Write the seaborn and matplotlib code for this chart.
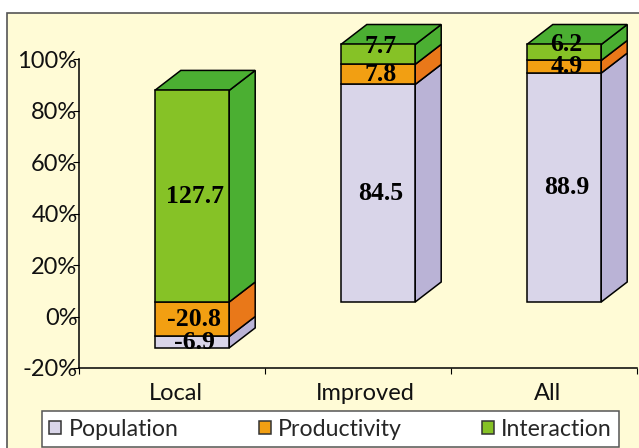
import numpy as np
import pandas as pd
import matplotlib
matplotlib.use("Agg")
import matplotlib.pyplot as plt
from matplotlib.patches import Polygon, Rectangle, Patch
from matplotlib.transforms import ScaledTranslation
import seaborn as sns

groups = ["Local", "Improved", "All"]
series_names = ["Population", "Productivity", "Interaction"]
population = [-6.9, 84.5, 88.9]
productivity = [-20.8, 7.8, 4.9]
interaction = [127.7, 7.7, 6.2]
front_colors = ["#D9D5E9", "#F29F12", "#86C226"]
side_colors = ["#BAB3D6", "#E97819", "#4BAF32"]
y_ticks = [-20, 0, 20, 40, 60, 80, 100]

W, H, DPI = 639, 448, 100
sns.set_style("white")
plt.rcParams["font.family"] = ["Lato", "DejaVu Sans"]

fig = plt.figure(figsize=(W / DPI, H / DPI), dpi=DPI, facecolor="white")
fig.add_artist(Rectangle((7 / W, 1 - 13 / H), 1.0, -1.0, transform=fig.transFigure,
                         facecolor="#FFFBD6", edgecolor="#555555", linewidth=1.2, zorder=-1))

ax = fig.add_axes([79 / W, 1 - 368 / H, (637 - 79) / W, (368 - 59) / H])
ax.patch.set_alpha(0)

# Each column is a 100% stack: shares of the absolute total.
matrix = np.array([population, productivity, interaction], dtype=float)
shares = matrix / np.abs(matrix).sum(axis=0) * 100

# Positives build upward in series order; negatives hang below zero, last series nearest the axis.
positive = np.clip(shares, 0, None)
negative = np.clip(shares, None, 0)
pos_lower = np.vstack([np.zeros(3), np.cumsum(positive, axis=0)[:-1]])
neg_upper = np.vstack([np.cumsum(negative[::-1], axis=0)[::-1][1:], np.zeros(3)])
lowers = np.where(shares >= 0, pos_lower, neg_upper + shares)
sizes = np.abs(shares)
tops = positive.sum(axis=0)

BAR_W = 0.4
PER_X = 186.0       # pixels per category
PER_Y = 2.575       # pixels per percentage point
DX, DY = 26 / PER_X, 20 / PER_Y
shift = ax.transData + ScaledTranslation(20 / DPI, 14.5 / DPI, fig.dpi_scale_trans)

ax.set_xlim(-0.5, 2.5)
ax.set_ylim(-20, 100)

for k in range(3):
    frame = pd.DataFrame({"group": groups, "size": sizes[k]})
    sns.barplot(data=frame, x="group", y="size", bottom=lowers[k], color=front_colors[k],
                saturation=1, width=BAR_W, edgecolor="black", linewidth=1.1,
                errorbar=None, ax=ax, transform=shift, zorder=3, clip_on=False)

# Right-hand walls of every segment, then the lid of each column.
for k in range(3):
    for i in range(3):
        lo, hi = lowers[k, i], lowers[k, i] + sizes[k, i]
        xr = i + BAR_W / 2
        ax.add_patch(Polygon([(xr, lo), (xr + DX, lo + DY), (xr + DX, hi + DY), (xr, hi)],
                             closed=True, facecolor=side_colors[k], edgecolor="black",
                             linewidth=1.1, transform=shift, zorder=2.5, clip_on=False))
for i in range(3):
    xl, xr = i - BAR_W / 2, i + BAR_W / 2
    ax.add_patch(Polygon([(xl, tops[i]), (xl + DX, tops[i] + DY), (xr + DX, tops[i] + DY), (xr, tops[i])],
                         closed=True, facecolor=side_colors[2], edgecolor="black",
                         linewidth=1.1, transform=shift, zorder=2.5, clip_on=False))

# Value labels at segment centres; a thin top segment has its label pushed onto the lid.
for k in range(3):
    for i in range(3):
        nudge = 7.5 if (k == 2 and sizes[k, i] < 10) else 0
        tr = shift + ScaledTranslation(2.5 / DPI, nudge / DPI, fig.dpi_scale_trans)
        ax.text(i, lowers[k, i] + sizes[k, i] / 2, f"{matrix[k, i]:.1f}", transform=tr,
                ha="center", va="center", family="Liberation Serif", fontweight="bold",
                fontsize=18.5, color="black", zorder=5, clip_on=False)

sns.despine(ax=ax, top=True, right=True)
for side in ("left", "bottom"):
    ax.spines[side].set_color("black")
    ax.spines[side].set_linewidth(1.1)

ax.set_xlabel("")
ax.set_ylabel("")
ax.set_yticks(y_ticks)
ax.set_yticklabels([f"{v}%" for v in y_ticks])
ax.set_xticks([-0.5, 0.5, 1.5, 2.5])
ax.set_xticklabels([])
ax.set_xticks([0.02, 1.04, 2.02], labels=groups, minor=True)
ax.tick_params(axis="y", length=4, width=0.8, color="black", direction="out", pad=-3,
               left=True, labelsize=17, labelcolor="#111111")
ax.tick_params(axis="x", which="major", length=4, width=0.8, color="black", direction="out", bottom=True)
ax.tick_params(axis="x", which="minor", length=0, pad=11, labelsize=17, labelcolor="#111111")

handles = [Patch(facecolor=c, edgecolor="#333333", linewidth=1.1, label=n)
           for c, n in zip(front_colors, series_names)]
leg = fig.legend(handles=handles, ncol=3, loc="lower left",
                 bbox_to_anchor=(42 / W, 1 - 447 / H), borderaxespad=0, frameon=True, fancybox=False,
                 fontsize=16.7, handlelength=0.52, handleheight=0.52, handletextpad=0.3,
                 columnspacing=3.47, borderpad=0.32)
leg.get_frame().set_edgecolor("#555555")
leg.get_frame().set_facecolor("white")
leg.get_frame().set_linewidth(1.1)
leg.get_frame().set_alpha(1)

fig.savefig("out.png", dpi=DPI)
